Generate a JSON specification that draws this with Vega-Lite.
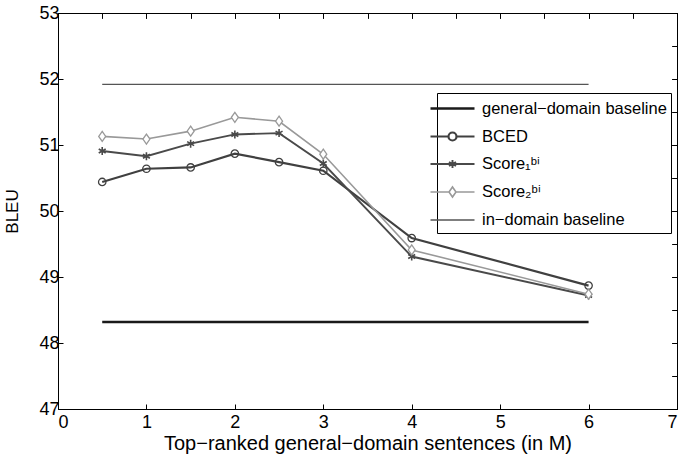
{
  "$schema": "https://vega.github.io/schema/vega-lite/v6.json",
  "width": 619,
  "height": 396,
  "autosize": {"type": "none"},
  "padding": {"left": 58, "top": 13, "right": 4, "bottom": 48},
  "background": "white",
  "config": {
    "view": {"stroke": "black", "strokeWidth": 1},
    "font": "Liberation Sans",
    "axis": {"labelFont": "Liberation Sans", "titleFont": "Liberation Sans", "labelFontSize": 18, "titleFontSize": 20, "titleFontWeight": "normal", "labelColor": "black", "titleColor": "black", "domainColor": "black", "tickColor": "black", "grid": false, "tickSize": -5},
    "axisTop": {"labels": false, "tickCount": 7, "tickSize": -5},
    "axisRight": {"labels": false, "tickCount": 6, "tickSize": -5}
  },
  "datasets": {
    "series": [
      {"series": "general−domain baseline", "x": 0.5, "bleu": 48.32},
      {"series": "general−domain baseline", "x": 6, "bleu": 48.32},
      {"series": "in−domain baseline", "x": 0.5, "bleu": 51.92},
      {"series": "in−domain baseline", "x": 6, "bleu": 51.92},
      {"series": "BCED", "x": 0.5, "bleu": 50.44},
      {"series": "BCED", "x": 1, "bleu": 50.64},
      {"series": "BCED", "x": 1.5, "bleu": 50.66},
      {"series": "BCED", "x": 2, "bleu": 50.87},
      {"series": "BCED", "x": 2.5, "bleu": 50.74},
      {"series": "BCED", "x": 3, "bleu": 50.61},
      {"series": "BCED", "x": 4, "bleu": 49.59},
      {"series": "BCED", "x": 6, "bleu": 48.87},
      {"series": "Score₁ᵇⁱ", "x": 0.5, "bleu": 50.91},
      {"series": "Score₁ᵇⁱ", "x": 1, "bleu": 50.83},
      {"series": "Score₁ᵇⁱ", "x": 1.5, "bleu": 51.02},
      {"series": "Score₁ᵇⁱ", "x": 2, "bleu": 51.16},
      {"series": "Score₁ᵇⁱ", "x": 2.5, "bleu": 51.18},
      {"series": "Score₁ᵇⁱ", "x": 3, "bleu": 50.72},
      {"series": "Score₁ᵇⁱ", "x": 4, "bleu": 49.31},
      {"series": "Score₁ᵇⁱ", "x": 6, "bleu": 48.72},
      {"series": "Score₂ᵇⁱ", "x": 0.5, "bleu": 51.13},
      {"series": "Score₂ᵇⁱ", "x": 1, "bleu": 51.09},
      {"series": "Score₂ᵇⁱ", "x": 1.5, "bleu": 51.21},
      {"series": "Score₂ᵇⁱ", "x": 2, "bleu": 51.42},
      {"series": "Score₂ᵇⁱ", "x": 2.5, "bleu": 51.36},
      {"series": "Score₂ᵇⁱ", "x": 3, "bleu": 50.86},
      {"series": "Score₂ᵇⁱ", "x": 4, "bleu": 49.41},
      {"series": "Score₂ᵇⁱ", "x": 6, "bleu": 48.74}
    ]
  },
  "data": {"name": "series"},
  "layer": [
    {
      "mark": {"type": "line", "clip": false},
      "encoding": {
        "x": {"field": "x", "type": "quantitative", "scale": {"domain": [0, 7], "nice": false}, "axis": {"orient": "bottom", "values": [0,1,2,3,4,5,6,7], "title": "Top−ranked general−domain sentences (in M)", "labelPadding": 9, "titlePadding": 2, "tickSize": -5}},
        "y": {"field": "bleu", "type": "quantitative", "scale": {"domain": [47, 53], "nice": false, "zero": false}, "axis": {"orient": "left", "values": [47,48,49,50,51,52,53], "title": "BLEU", "titleFontSize": 17, "labelPadding": 4, "titlePadding": 17, "tickSize": -5}},
        "color": {
          "field": "series", "type": "nominal",
          "scale": {"domain": ["general−domain baseline", "BCED", "Score₁ᵇⁱ", "Score₂ᵇⁱ", "in−domain baseline"], "range": ["#1a1a1a", "#404040", "#4a4a4a", "#999999", "#555555"]},
          "legend": {"orient": "none", "legendX": 379, "legendY": 80, "title": null, "labelFont": "Liberation Sans", "labelFontSize": 16.5, "labelColor": "black", "labelOffset": 18, "labelLimit": 400, "rowPadding": 8, "padding": 4, "strokeColor": "black", "fillColor": "white", "symbolStrokeWidth": 1.3, "symbolSize": 400}
        },
        "strokeWidth": {"field": "series", "type": "nominal", "legend": null, "scale": {"domain": ["general−domain baseline", "BCED", "Score₁ᵇⁱ", "Score₂ᵇⁱ", "in−domain baseline"], "range": [2.5, 1.3, 1.3, 1.3, 2]}},
        "detail": {"field": "series"},
        "order": {"field": "x", "type": "quantitative"}
      }
    },
    {
      "transform": [{"filter": "datum.series == 'BCED'"}],
      "mark": {"type": "point", "shape": "circle", "filled": false, "stroke": "#404040", "strokeWidth": 1.3, "size": 55, "opacity": 1},
      "encoding": {
        "x": {"field": "x", "type": "quantitative", "title": null},
        "y": {"field": "bleu", "type": "quantitative", "title": null}
      }
    },
    {
      "transform": [{"filter": "datum.series == 'Score₁ᵇⁱ'"}],
      "mark": {"type": "point", "shape": "M0,-1V1M-0.87,-0.5L0.87,0.5M-0.87,0.5L0.87,-0.5", "filled": false, "stroke": "#4a4a4a", "strokeWidth": 1.6, "size": 64, "opacity": 1},
      "encoding": {
        "x": {"field": "x", "type": "quantitative", "title": null},
        "y": {"field": "bleu", "type": "quantitative", "title": null}
      }
    },
    {
      "transform": [{"filter": "datum.series == 'Score₂ᵇⁱ'"}],
      "mark": {"type": "point", "shape": "M0,-1L0.7,0L0,1L-0.7,0Z", "filled": true, "fill": "white", "stroke": "#999999", "strokeWidth": 1.3, "size": 100, "opacity": 1},
      "encoding": {
        "x": {"field": "x", "type": "quantitative", "title": null},
        "y": {"field": "bleu", "type": "quantitative", "title": null}
      }
    },
    {
      "mark": {"type": "point", "filled": false, "opacity": 0, "size": 400, "strokeWidth": 1.3},
      "encoding": {
        "x": {"field": "x", "type": "quantitative", "title": null, "axis": {"orient": "top", "title": null}},
        "y": {"field": "bleu", "type": "quantitative", "title": null, "axis": {"orient": "right", "title": null}},
        "color": {"field": "series", "type": "nominal"},
        "shape": {
          "field": "series", "type": "nominal",
          "scale": {"domain": ["general−domain baseline", "BCED", "Score₁ᵇⁱ", "Score₂ᵇⁱ", "in−domain baseline"], "range": ["M-2.2,0H2.2", "M-2.2,0H-0.4M0.4,0H2.2M0.4,0A0.4,0.4 0 1,1 -0.4,0A0.4,0.4 0 1,1 0.4,0", "M-2.2,0H2.2M0,-0.4V0.4M-0.35,-0.2L0.35,0.2M-0.35,0.2L0.35,-0.2", "M-2.2,0H-0.35M0.35,0H2.2M0,-0.5L0.35,0L0,0.5L-0.35,0Z", "M-2.2,0H2.2"]}
        }
      }
    }
  ]
}
